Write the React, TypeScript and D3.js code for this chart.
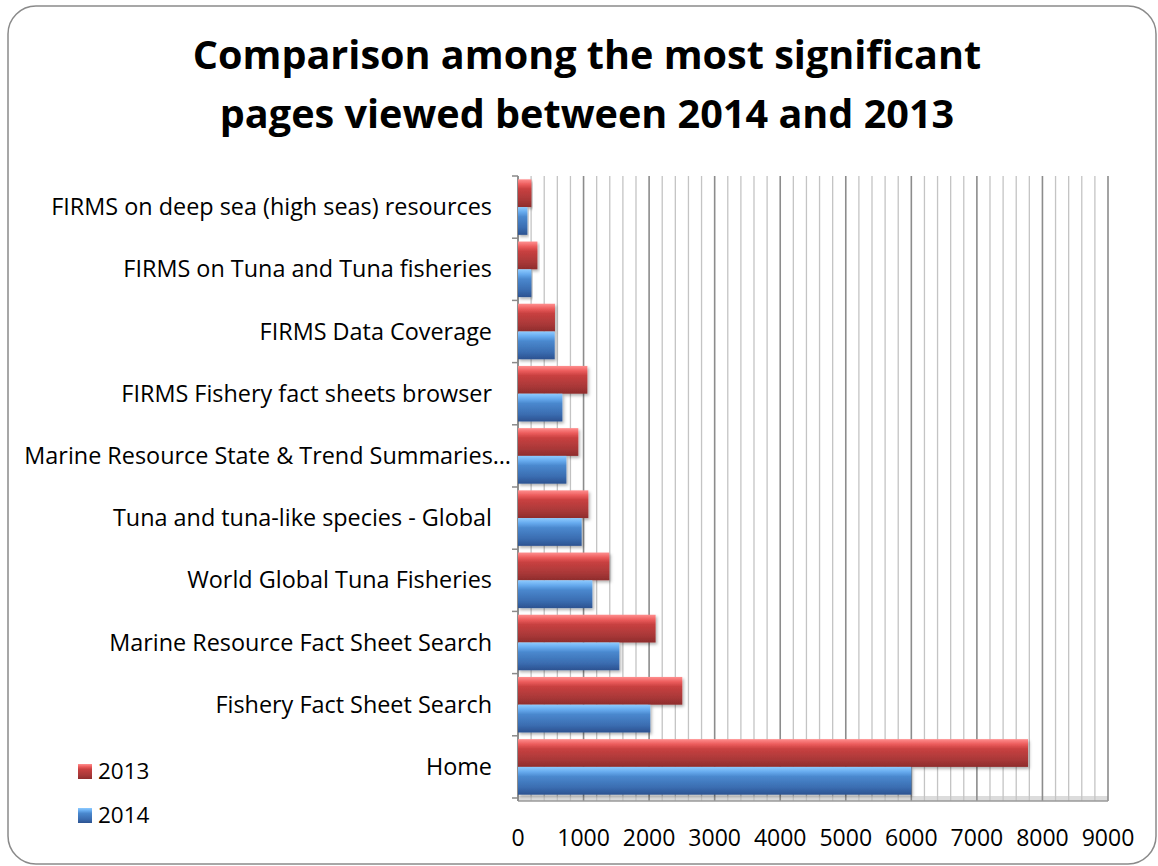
import React from "react";
import * as d3 from "d3";

const categories = [
  "FIRMS on deep sea (high seas) resources",
  "FIRMS on Tuna and Tuna fisheries",
  "FIRMS Data Coverage",
  "FIRMS Fishery fact sheets browser",
  "Marine Resource State & Trend Summaries…",
  "Tuna and tuna-like species - Global",
  "World Global Tuna Fisheries",
  "Marine Resource Fact Sheet Search",
  "Fishery Fact Sheet Search",
  "Home",
];
const values2013 = [204, 296, 564, 1058, 920, 1073, 1393, 2099, 2506, 7780];
const values2014 = [143, 204, 560, 677, 738, 971, 1134, 1546, 2018, 6000];
const xTicks = [0, 1000, 2000, 3000, 4000, 5000, 6000, 7000, 8000, 9000];
const seriesNames = ["2013", "2014"];
const titleLines = ["Comparison among the most significant", "pages viewed between 2014 and 2013"];

const W = 1158;
const H = 866;
const plot = { left: 518, right: 1108, top: 176, bottom: 798 };
const FONT = "'Open Sans', Lato, sans-serif";

export default function App() {
  const x = d3.scaleLinear().domain([0, 9000]).range([plot.left, plot.right]);
  const y = d3.scaleBand().domain(categories).range([plot.top, plot.bottom]).paddingInner(0).paddingOuter(0);
  const inner = d3.scaleBand().domain(seriesNames).range([0, y.bandwidth()]).paddingOuter(0.12).paddingInner(0);
  const minor = d3.range(0, 9001, 200);
  const bandEdges = categories.map((c) => y(c) as number).concat([plot.bottom]);

  const drawBars = (vals: number[], s: string) =>
    categories.map((c, i) => {
      const y0 = (y(c) as number) + (inner(s) as number);
      const h = inner.bandwidth();
      return (
        <rect
          key={s + c}
          x={x(0)}
          y={y0}
          width={x(vals[i]) - x(0)}
          height={h}
          fill={s === "2013" ? "url(#gRed)" : "url(#gBlue)"}
          filter="url(#shadow)"
        />
      );
    });

  return (
    <svg width={W} height={H} style={{ position: "absolute", left: 0, top: 0 }}>
      <defs>
        <linearGradient id="gRed" x1="0" y1="0" x2="0" y2="1">
          <stop offset="0" stopColor="#ff8f8f" />
          <stop offset="0.18" stopColor="#ec5c5c" />
          <stop offset="0.35" stopColor="#c84040" />
          <stop offset="0.75" stopColor="#a83838" />
          <stop offset="1" stopColor="#8e2c2c" />
        </linearGradient>
        <linearGradient id="gBlue" x1="0" y1="0" x2="0" y2="1">
          <stop offset="0" stopColor="#8ecbff" />
          <stop offset="0.18" stopColor="#66aaee" />
          <stop offset="0.35" stopColor="#4a88ce" />
          <stop offset="0.75" stopColor="#3a6cb0" />
          <stop offset="1" stopColor="#2c5290" />
        </linearGradient>
        <filter id="shadow" x="-5%" y="-20%" width="115%" height="160%">
          <feDropShadow dx="1.5" dy="2" stdDeviation="1.5" floodColor="#000" floodOpacity="0.3" />
        </filter>
      </defs>
      <rect x={8} y={6} width={1148} height={858} rx={28} ry={28} fill="#fff" stroke="#8a8a8a" strokeWidth={1.5} />

      {titleLines.map((t, i) => (
        <text key={t} x={587} y={69 + i * 59} textAnchor="middle" fontFamily={FONT} fontWeight="bold" fontSize={39.6} fill="#000">
          {t}
        </text>
      ))}

      {/* floor */}
      <rect x={plot.left} y={plot.bottom - 2} width={plot.right - plot.left} height={5} fill="#dcdcdc" />
      {/* gridlines */}
      {minor.map((v) => (
        <line
          key={"g" + v}
          x1={x(v)}
          x2={x(v)}
          y1={plot.top}
          y2={plot.bottom + 3}
          stroke={v % 1000 === 0 ? "#8c8c8c" : "#c4c4c4"}
          strokeWidth={v % 1000 === 0 ? 1.6 : 1.3}
        />
      ))}
      <line x1={plot.left} x2={plot.right} y1={plot.bottom + 3} y2={plot.bottom + 3} stroke="#9a9a9a" strokeWidth={1.5} />
      <line x1={plot.left} x2={plot.left} y1={plot.top} y2={plot.bottom + 3} stroke="#8a8a8a" strokeWidth={1.5} />
      {bandEdges.map((b, i) => (
        <line key={"t" + i} x1={plot.left - 6} x2={plot.left} y1={b} y2={b} stroke="#8a8a8a" strokeWidth={1.5} />
      ))}

      {drawBars(values2013, "2013")}
      {drawBars(values2014, "2014")}

      {categories.map((c) => (
        <text
          key={"l" + c}
          x={c.endsWith("…") ? 511 : 492}
          y={(y(c) as number) + y.bandwidth() / 2 + 8}
          textAnchor="end"
          fontFamily={FONT}
          fontSize={23.4}
          fill="#000"
        >
          {c}
        </text>
      ))}

      {xTicks.map((v) => (
        <text key={"x" + v} x={x(v)} y={846} textAnchor="middle" fontFamily={FONT} fontSize={23} fill="#000">
          {v}
        </text>
      ))}

      {seriesNames.map((s, i) => (
        <g key={"lg" + s}>
          <rect x={78} y={764 + i * 44} width={14} height={15} fill={s === "2013" ? "url(#gRed)" : "url(#gBlue)"} />
          <text x={98} y={779 + i * 44} fontFamily={FONT} fontSize={22.5} fill="#000">
            {s}
          </text>
        </g>
      ))}
    </svg>
  );
}
